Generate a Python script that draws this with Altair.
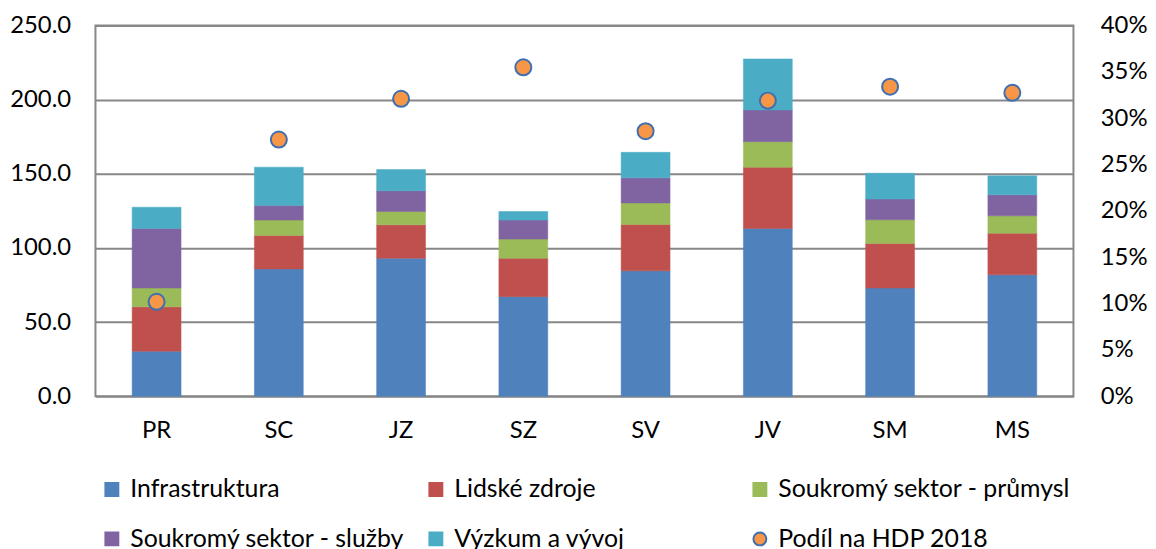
import altair as alt
import pandas as pd

regions = ["PR", "SC", "JZ", "SZ", "SV", "JV", "SM", "MS"]
series = ["Infrastruktura", "Lidské zdroje", "Soukromý sektor - průmysl",
          "Soukromý sektor - služby", "Výzkum a vývoj"]
infrastruktura = [30.4, 85.9, 93.1, 67.2, 84.6, 113.2, 73.0, 81.9]
lidske_zdroje = [29.9, 22.6, 22.5, 25.9, 31.2, 41.3, 30.1, 28.1]
prumysl = [12.7, 10.3, 9.0, 12.9, 14.6, 17.2, 15.9, 11.7]
sluzby = [40.2, 9.8, 14.0, 12.8, 16.9, 21.4, 14.0, 14.2]
vyzkum = [14.3, 25.9, 14.3, 5.8, 17.2, 34.4, 17.4, 12.8]
point_name = "Podíl na HDP 2018"
hdp_share = [0.102, 0.277, 0.321, 0.355, 0.286, 0.319, 0.334, 0.3275]
colors = ["#4F81BD", "#C0504D", "#9BBB59", "#8064A2", "#4BACC6", "#F79646"]
strokes = ["#4F81BD", "#C0504D", "#9BBB59", "#8064A2", "#4BACC6", "#3F6FB0"]
shapes = ["square"] * 5 + ["circle"]

rows = []
for j, vals in enumerate([infrastruktura, lidske_zdroje, prumysl, sluzby, vyzkum]):
    for i, r in enumerate(regions):
        rows.append({"region": r, "series": series[j], "value": vals[i], "order": j})
bars_df = pd.DataFrame(rows)
pts_df = pd.DataFrame({"region": regions, "series": point_name, "share": hdp_share})

domain = series + [point_name]
FONT = "Lato"

leg = alt.Legend(title=None, orient="none", legendX=4, legendY=454, columns=3,
                 direction="horizontal",
                 gridAlign="all", columnPadding=-4, rowPadding=24,
                 labelFont=FONT, labelFontSize=25, labelColor="black",
                 labelLimit=500, symbolSize=169, labelOffset=6,
                 symbolStrokeWidth=2)

x = alt.X("region:N", sort=regions, title=None,
          scale=alt.Scale(paddingInner=0.6, paddingOuter=0.3),
          axis=alt.Axis(labelAngle=0, labelPadding=22))

color = alt.Color("series:N", scale=alt.Scale(domain=domain, range=colors), legend=leg)
shape = alt.Shape("series:N", scale=alt.Scale(domain=domain, range=shapes), legend=leg)
stroke = alt.Stroke("series:N", scale=alt.Scale(domain=domain, range=strokes), legend=leg)

bars = alt.Chart(bars_df).mark_bar(strokeWidth=0.5).encode(
    x=x,
    y=alt.Y("value:Q", stack="zero", title=None,
            scale=alt.Scale(domain=[0, 250], nice=False),
            axis=alt.Axis(format=".1f", values=[0, 50, 100, 150, 200, 250],
                          labelPadding=25, grid=True)),
    color=color, shape=shape, stroke=stroke,
    order=alt.Order("order:Q", sort="ascending"),
)

points = alt.Chart(pts_df).mark_point(filled=True, size=260, strokeWidth=2, opacity=1).encode(
    x=x,
    y=alt.Y("share:Q", title=None,
            scale=alt.Scale(domain=[0, 0.4], nice=False),
            axis=alt.Axis(orient="right", format=".0%",
                          values=[0, 0.05, 0.1, 0.15, 0.2, 0.25, 0.3, 0.35, 0.4],
                          labelPadding=27, grid=False, labelAlign="left")),
    color=color, shape=shape, stroke=stroke,
)

chart = alt.layer(bars, points).resolve_scale(y="independent").properties(
    width=984, height=373, background="white",
    padding={"left": 1, "top": 4, "right": 0, "bottom": 0}
).configure_view(
    stroke="#878787", strokeWidth=2
).configure_axis(
    labelFont=FONT, labelFontSize=24, labelColor="black",
    domain=False, ticks=False, gridColor="#878787", gridWidth=2,
)

chart.save("out.html", embed_options={"renderer": "svg", "actions": False})
